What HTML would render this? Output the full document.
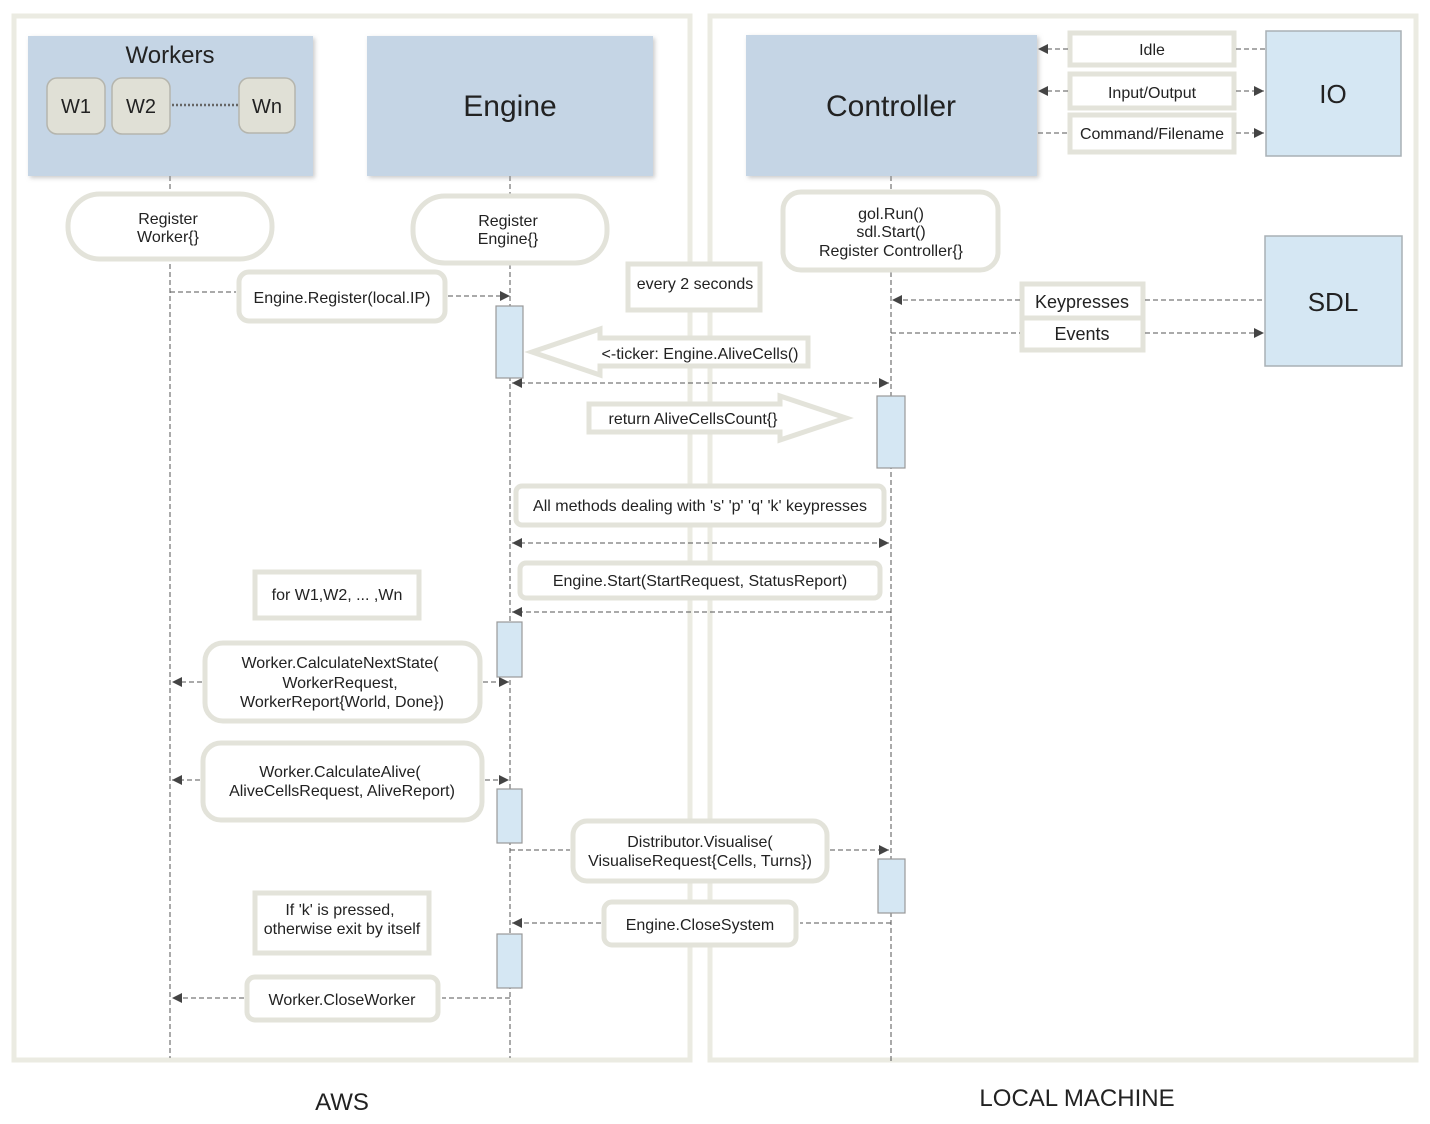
<!DOCTYPE html>
<html><head><style>body{margin:0;background:#fff}svg{display:block}text{font-family:"Liberation Sans",sans-serif;fill:#222}</style></head><body>
<svg width="1430" height="1124" viewBox="0 0 1430 1124" xmlns="http://www.w3.org/2000/svg">
<defs>
<marker id="a" viewBox="0 0 10 10" refX="10" refY="5" markerWidth="10" markerHeight="10" markerUnits="userSpaceOnUse" orient="auto-start-reverse"><path d="M0,0L10,5L0,10z" fill="#444"/></marker>
<filter id="sh"><feDropShadow dx="2" dy="2" stdDeviation="2" flood-color="#999" flood-opacity="0.5"/></filter>
</defs>
<rect x="14" y="16" width="676" height="1044" fill="none" stroke="#ebebe2" stroke-width="5"/>
<rect x="710" y="16" width="706" height="1044" fill="none" stroke="#ebebe2" stroke-width="5"/>
<g stroke="#555" stroke-dasharray="5,3" stroke-width="1" fill="none">
<line x1="170" y1="176" x2="170" y2="1058"/>
<line x1="510" y1="176" x2="510" y2="1058"/>
<line x1="891" y1="176" x2="891" y2="1062"/>
</g>
<rect x="28" y="36" width="285" height="140" fill="#c5d5e5" filter="url(#sh)"/>
<text x="170" y="63" font-size="24" text-anchor="middle">Workers</text>
<g fill="#e0e0d6" stroke="#b5b5ad" stroke-width="1.5">
<rect x="47" y="78" width="58" height="56" rx="10"/><rect x="112" y="78" width="58" height="56" rx="10"/><rect x="239" y="78" width="56" height="55" rx="10"/></g>
<line x1="172" y1="105" x2="238" y2="105" stroke="#666" stroke-width="2.5" stroke-dasharray="2,2"/>
<g font-size="20" text-anchor="middle"><text x="76" y="113">W1</text><text x="141" y="113">W2</text><text x="267" y="113">Wn</text></g>
<rect x="367" y="36" width="286" height="140" fill="#c5d5e5" filter="url(#sh)"/>
<text x="510" y="116" font-size="30" text-anchor="middle">Engine</text>
<rect x="746" y="35" width="291" height="141" fill="#c5d5e5" filter="url(#sh)"/>
<text x="891" y="116" font-size="30" text-anchor="middle">Controller</text>
<rect x="1266" y="31" width="135" height="125" fill="#d5e7f3" stroke="#a9b0b5" stroke-width="1.5"/>
<text x="1333" y="103" font-size="26" text-anchor="middle">IO</text>
<rect x="1265" y="236" width="137" height="130" fill="#d5e7f3" stroke="#a9b0b5" stroke-width="1.5"/>
<text x="1333" y="311" font-size="26" text-anchor="middle">SDL</text>
<g fill="#fff" stroke="#e3e3da" stroke-width="5">
<rect x="1070" y="33" width="164" height="32"/><rect x="1070" y="74" width="164" height="34"/><rect x="1070" y="115" width="164" height="37"/>
<rect x="1022" y="284" width="121" height="34"/><rect x="1022" y="318" width="121" height="32"/>
<rect x="68" y="194" width="204" height="65" rx="32"/>
<rect x="413" y="196" width="194" height="67" rx="32"/>
<rect x="783" y="192" width="215" height="78" rx="18"/>
<rect x="239" y="272" width="206" height="49" rx="10"/>
<rect x="628" y="264" width="132" height="46"/>
<rect x="516" y="486" width="368" height="39" rx="6"/>
<rect x="520" y="563" width="360" height="35" rx="6"/>
<rect x="255" y="572" width="164" height="46"/>
<rect x="205" y="643" width="275" height="78" rx="18"/>
<rect x="203" y="743" width="279" height="77" rx="18"/>
<rect x="573" y="821" width="254" height="60" rx="14"/>
<rect x="255" y="893" width="174" height="60"/>
<rect x="604" y="902" width="192" height="43" rx="8"/>
<rect x="247" y="977" width="191" height="43" rx="8"/>
</g>
<g fill="none" stroke="#e3e3da" stroke-width="5">
<path d="M532,352 L600,329 L600,338 L808,338 L808,366 L600,366 L600,375 Z" fill="#fff"/>
<path d="M589,404 L780,404 L780,396 L846,418 L780,440 L780,432 L589,432 Z" fill="#fff"/>
</g>
<g stroke="#555" stroke-width="1" stroke-dasharray="5,3" fill="none">
<line x1="1068" y1="49" x2="1038" y2="49" marker-end="url(#a)"/><line x1="1236" y1="49" x2="1265" y2="49"/>
<line x1="1068" y1="91" x2="1038" y2="91" marker-end="url(#a)"/><line x1="1236" y1="91" x2="1264" y2="91" marker-end="url(#a)"/>
<line x1="1038" y1="133" x2="1068" y2="133"/><line x1="1236" y1="133" x2="1264" y2="133" marker-end="url(#a)"/>
<line x1="1020" y1="300" x2="892" y2="300" marker-end="url(#a)"/><line x1="1145" y1="300" x2="1265" y2="300"/>
<line x1="891" y1="333" x2="1020" y2="333"/><line x1="1145" y1="333" x2="1264" y2="333" marker-end="url(#a)"/>
<polyline points="170,292 236,292"/><line x1="448" y1="296" x2="510" y2="296" marker-end="url(#a)"/>
<line x1="512" y1="383" x2="889" y2="383" marker-start="url(#a)" marker-end="url(#a)"/>
<line x1="512" y1="543" x2="889" y2="543" marker-start="url(#a)" marker-end="url(#a)"/>
<line x1="891" y1="612" x2="512" y2="612" marker-end="url(#a)"/>
<line x1="202" y1="682" x2="172" y2="682" marker-end="url(#a)"/><line x1="483" y1="682" x2="509" y2="682" marker-end="url(#a)"/>
<line x1="200" y1="780" x2="172" y2="780" marker-end="url(#a)"/><line x1="485" y1="780" x2="509" y2="780" marker-end="url(#a)"/>
<line x1="510" y1="850" x2="570" y2="850"/><line x1="830" y1="850" x2="889" y2="850" marker-end="url(#a)"/>
<line x1="891" y1="923" x2="800" y2="923"/><line x1="601" y1="923" x2="512" y2="923" marker-end="url(#a)"/>
<line x1="510" y1="998" x2="442" y2="998"/><line x1="244" y1="998" x2="172" y2="998" marker-end="url(#a)"/>
</g>
<g fill="#d5e7f3" stroke="#999" stroke-width="1.2">
<rect x="496" y="306" width="27" height="72"/><rect x="877" y="396" width="28" height="72"/>
<rect x="497" y="622" width="25" height="55"/><rect x="497" y="789" width="25" height="54"/>
<rect x="878" y="859" width="27" height="54"/><rect x="497" y="934" width="25" height="54"/>
</g>
<g font-size="16" text-anchor="middle">
<text x="1152" y="55">Idle</text><text x="1152" y="98">Input/Output</text><text x="1152" y="139">Command/Filename</text>
<text x="1082" y="308" font-size="18">Keypresses</text><text x="1082" y="340" font-size="18">Events</text>
<text x="168" y="224">Register</text><text x="168" y="242">Worker{}</text>
<text x="508" y="226">Register</text><text x="508" y="244">Engine{}</text>
<text x="891" y="219">gol.Run()</text><text x="891" y="237">sdl.Start()</text><text x="891" y="256">Register Controller{}</text>
<text x="342" y="303">Engine.Register(local.IP)</text>
<text x="695" y="289">every 2 seconds</text>
<text x="700" y="359">&lt;-ticker: Engine.AliveCells()</text>
<text x="693" y="424">return AliveCellsCount{}</text>
<text x="700" y="511">All methods dealing with 's' 'p' 'q' 'k' keypresses</text>
<text x="700" y="586">Engine.Start(StartRequest, StatusReport)</text>
<text x="337" y="600">for W1,W2, ... ,Wn</text>
<text x="340" y="668">Worker.CalculateNextState(</text><text x="340" y="688">WorkerRequest,</text><text x="342" y="707">WorkerReport{World, Done})</text>
<text x="340" y="777">Worker.CalculateAlive(</text><text x="342" y="796">AliveCellsRequest, AliveReport)</text>
<text x="700" y="847">Distributor.Visualise(</text><text x="700" y="866">VisualiseRequest{Cells, Turns})</text>
<text x="340" y="915">If 'k' is pressed,</text><text x="342" y="934">otherwise exit by itself</text>
<text x="700" y="930">Engine.CloseSystem</text>
<text x="342" y="1005">Worker.CloseWorker</text>
<text x="342" y="1110" font-size="24">AWS</text>
<text x="1077" y="1106" font-size="24">LOCAL MACHINE</text>
</g>
</svg>
</body></html>
